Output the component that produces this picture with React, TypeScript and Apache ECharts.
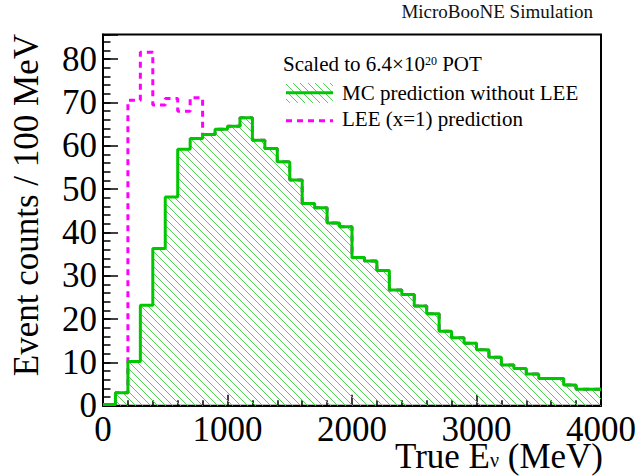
import React, { useEffect, useRef } from "react";
import * as echarts from "echarts";

// ---- data ----
const BIN_WIDTH = 100; // MeV
const X_MIN = 0;
const X_MAX = 4000;
const X_INTERVAL = 1000;
const Y_MIN = 0;
const Y_MAX = 85.7;
const Y_INTERVAL = 10;

// MC prediction without LEE, 40 bins of 100 MeV (0-4000 MeV)
const mcCounts = [
  0.3, 3.0, 10.2, 23.2, 36.3, 48.2, 59.2, 61.7, 62.6, 63.8,
  64.5, 66.5, 61.3, 59.4, 56.3, 52.1, 46.7, 45.7, 42.2, 41.3,
  34.2, 33.4, 31.2, 26.7, 25.7, 23.0, 21.2, 17.2, 15.7, 14.4,
  12.9, 11.2, 9.4, 8.6, 7.3, 6.3, 6.3, 4.8, 3.8, 3.8,
];

// LEE (x=1) prediction, same binning
const leeCounts = [
  0.3, 3.0, 70.5, 81.6, 69.4, 70.9, 68.0, 71.1, 62.6, 63.8,
  64.5, 66.5, 61.3, 59.4, 56.3, 52.1, 46.7, 45.7, 42.2, 41.3,
  34.2, 33.4, 31.2, 26.7, 25.7, 23.0, 21.2, 17.2, 15.7, 14.4,
  12.9, 11.2, 9.4, 8.6, 7.3, 6.3, 6.3, 4.8, 3.8, 3.8,
];

const TITLE = "MicroBooNE Simulation";
const Y_TITLE = "Event counts / 100 MeV";
const LEGEND_HEADER = ["Scaled to 6.4×10", "20", " POT"];
const LEGEND_MC = "MC prediction without LEE";
const LEGEND_LEE = "LEE (x=1) prediction";

// ---- styles ----
const FONT = '"Liberation Serif", "Times New Roman", serif';
const GREEN = "#00c800";
const HATCH = "#4fd24f";
const MAGENTA = "#ff00ff";
const DASH = [6, 5];

function histPoints(counts: number[]) {
  const pts: number[][] = counts.map((v, i) => [i * BIN_WIDTH, v]);
  pts.push([counts.length * BIN_WIDTH, counts[counts.length - 1]]);
  return pts;
}

function makeHatch() {
  const s = 15;
  const c = document.createElement("canvas");
  c.width = s;
  c.height = s;
  const ctx = c.getContext("2d");
  if (ctx) {
    ctx.fillStyle = HATCH;
    for (let i = 0; i < s; i++) {
      ctx.fillRect(i, i, 1, 1);
      ctx.fillRect(i, (i + 8) % s, 1, 1);
    }
  }
  return { image: c, repeat: "repeat", imageWidth: s, imageHeight: s };
}

export default function App() {
  const ref = useRef<HTMLDivElement>(null);

  useEffect(() => {
    if (!ref.current) return;
    const chart = echarts.init(ref.current, undefined, { renderer: "svg" });
    const hatch: any = makeHatch();

    const axisLine = { show: true, lineStyle: { color: "#000", width: 2 } };
    const option: any = {
      animation: false,
      grid: {
        left: 103,
        right: 36,
        top: 34.5,
        bottom: 70.3,
        show: true,
        borderColor: "#000",
        borderWidth: 2,
        backgroundColor: "transparent",
      },
      xAxis: [
        {
          type: "value",
          min: X_MIN,
          max: X_MAX,
          interval: X_INTERVAL,
          axisLine,
          axisTick: { show: true, inside: true, length: 11, lineStyle: { color: "#000", width: 1.5 } },
          minorTick: { show: true, splitNumber: 5, length: 5.5, lineStyle: { color: "#000", width: 1.5 } },
          splitLine: { show: false },
          minorSplitLine: { show: false },
          axisLabel: {
            fontFamily: FONT,
            fontSize: 35,
            lineHeight: 24,
            color: "#000",
            margin: 12,
            formatter: (v: number) => String(v),
          },
        },
      ],
      yAxis: [
        {
          type: "value",
          min: Y_MIN,
          max: Y_MAX,
          interval: Y_INTERVAL,
          axisLine,
          axisTick: { show: true, inside: true, length: 15, lineStyle: { color: "#000", width: 1.5 } },
          splitLine: { show: false },
          axisLabel: {
            fontFamily: FONT,
            fontSize: 35,
            color: "#000",
            margin: 6,
            formatter: (v: number) => (Math.abs(v % Y_INTERVAL) < 1e-6 ? String(v) : ""),
          },
        },
        {
          type: "value",
          min: Y_MIN,
          max: Y_MAX,
          interval: 2,
          position: "left",
          axisLine: { show: false },
          axisTick: { show: true, inside: true, length: 7.5, lineStyle: { color: "#000", width: 1.5 } },
          axisLabel: { show: false },
          splitLine: { show: false },
        },
      ],
      series: [
        {
          name: LEGEND_LEE,
          type: "line",
          step: "end",
          symbol: "none",
          data: histPoints(leeCounts),
          lineStyle: { color: MAGENTA, width: 3, type: DASH },
          z: 2,
        },
        {
          name: LEGEND_MC,
          type: "line",
          step: "end",
          symbol: "none",
          data: histPoints(mcCounts),
          lineStyle: { color: GREEN, width: 3 },
          areaStyle: { color: hatch, opacity: 1, origin: 0 },
          z: 3,
        },
      ],
      graphic: [
        {
          type: "text",
          x: 593,
          y: 11.6,
          style: {
            text: TITLE,
            fontFamily: FONT,
            fontSize: 19,
            fill: "#111",
            textAlign: "right",
            textVerticalAlign: "middle",
          },
        },
        {
          type: "text",
          x: 26,
          y: 34,
          rotation: Math.PI / 2,
          style: {
            text: Y_TITLE,
            fontFamily: FONT,
            fontSize: 35,
            fill: "#000",
            textAlign: "right",
            textVerticalAlign: "middle",
          },
        },
        {
          type: "text",
          x: 603,
          y: 456.2,
          style: {
            text: "{a|True E}{s|ν}{a| (MeV)}",
            textAlign: "right",
            textVerticalAlign: "middle",
            rich: {
              a: { fontFamily: FONT, fontSize: 35, lineHeight: 28, fill: "#000" },
              s: { fontFamily: FONT, fontSize: 20, lineHeight: 14, verticalAlign: "bottom", fill: "#000" },
            },
          },
        },
        {
          type: "text",
          x: 283,
          y: 63.6,
          style: {
            text: `{a|${LEGEND_HEADER[0]}}{s|${LEGEND_HEADER[1]}}{a|${LEGEND_HEADER[2]}}`,
            textAlign: "left",
            textVerticalAlign: "middle",
            rich: {
              a: { fontFamily: FONT, fontSize: 21, lineHeight: 18, fill: "#000" },
              s: { fontFamily: FONT, fontSize: 12, verticalAlign: "top", fill: "#000" },
            },
          },
        },
        {
          type: "rect",
          shape: { x: 286, y: 83, width: 47, height: 20 },
          style: { fill: hatch },
        },
        {
          type: "line",
          shape: { x1: 286, y1: 92.7, x2: 333, y2: 92.7 },
          style: { stroke: GREEN, lineWidth: 3 },
        },
        {
          type: "text",
          x: 342,
          y: 92.9,
          style: {
            text: LEGEND_MC,
            fontFamily: FONT,
            fontSize: 21,
            fill: "#000",
            textAlign: "left",
            textVerticalAlign: "middle",
          },
        },
        {
          type: "line",
          shape: { x1: 286, y1: 120.7, x2: 333, y2: 120.7 },
          style: { stroke: MAGENTA, lineWidth: 3, lineDash: DASH },
        },
        {
          type: "text",
          x: 342,
          y: 118.9,
          style: {
            text: LEGEND_LEE,
            fontFamily: FONT,
            fontSize: 21,
            fill: "#000",
            textAlign: "left",
            textVerticalAlign: "middle",
          },
        },
      ],
    };
    chart.setOption(option);
    return () => chart.dispose();
  }, []);

  return (
    <div
      ref={ref}
      style={{ position: "fixed", left: 0, top: 0, width: 639, height: 476, background: "#fff" }}
    />
  );
}
